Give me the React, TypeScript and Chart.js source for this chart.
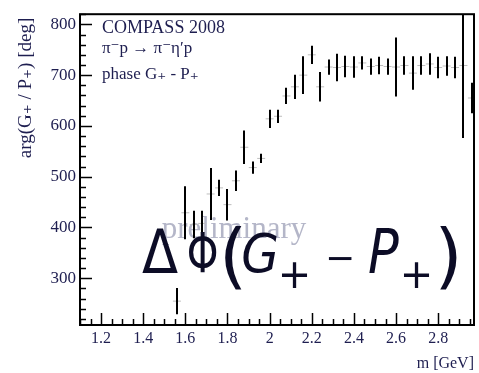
import React, { useEffect, useRef } from "react";
import { Chart, registerables } from "chart.js";

Chart.register(...registerables);

// Mass bins [GeV]
const masses = [
  1.56, 1.6, 1.64, 1.68, 1.72, 1.76, 1.8, 1.84, 1.88, 1.92, 1.96, 2.0, 2.04, 2.08, 2.12, 2.16, 2.2, 2.24,
  2.28, 2.32, 2.36, 2.4, 2.44, 2.48, 2.52, 2.56, 2.6, 2.64, 2.68, 2.72, 2.76, 2.8, 2.84, 2.88, 2.92, 2.96,
];
// Phase difference arg(G+/P+) [deg]
const phases = [
  255, 429, 406, 408, 466, 478, 445, 492, 558, 518, 536, 614, 619, 659, 677, 700, 740, 677,
  716, 715, 717, 716, 724, 717, 719, 717, 716, 719, 704, 719, 722, 715, 718, 715, 719, 655,
];
// Statistical errors [deg]
const errors = [
  26, 52, 27, 25, 51, 16, 31, 20, 33, 12, 9, 18, 13, 16, 24, 37, 18, 29,
  15, 27, 21, 21, 13, 16, 17, 16, 58, 18, 33, 18, 21, 21, 19, 21, 143, 30,
];

const xTickLabels = [1.2, 1.4, 1.6, 1.8, 2.0, 2.2, 2.4, 2.6, 2.8];
const yTickLabels = [300, 400, 500, 600, 700, 800];
const xRange = [1.1, 2.97];
const yRange = [208, 820];
const xMinorStep = 0.05;
const yMinorStep = 20;

const infoLines = ["COMPASS 2008", "π⁻p → π⁻η′p", "phase G₊ - P₊"];

const TEXT_COLOR = "#1e1e50";
const SERIF = "'Liberation Serif', 'DejaVu Serif', serif";

const fmt = (v: number) => (Number.isInteger(v) ? String(v) : v.toFixed(1));

const framePlugin = {
  id: "frameTicks",
  afterDatasetsDraw(chart: any) {
    const { ctx, chartArea: a, scales } = chart;
    const xs = scales.x;
    const ys = scales.y;
    ctx.save();
    // error bars
    ctx.beginPath();
    ctx.rect(a.left, a.top, a.right - a.left, a.bottom - a.top);
    ctx.clip();
    ctx.strokeStyle = "#000";
    ctx.lineWidth = 2;
    for (let i = 0; i < masses.length; i++) {
      const px = Math.round(xs.getPixelForValue(masses[i]));
      const y1 = ys.getPixelForValue(phases[i] - errors[i]);
      const y2 = ys.getPixelForValue(phases[i] + errors[i]);
      ctx.beginPath();
      ctx.moveTo(px, y1);
      ctx.lineTo(px, y2);
      ctx.stroke();
    }
    ctx.restore();

    ctx.save();
    ctx.strokeStyle = "#000";
    // ticks
    ctx.lineWidth = 1.5;
    const x0 = Math.ceil(xRange[0] / xMinorStep - 1e-6);
    for (let k = x0; k * xMinorStep <= xRange[1] + 1e-9; k++) {
      const v = k * xMinorStep;
      const major = xTickLabels.some((t) => Math.abs(t - v) < 1e-6);
      const px = Math.round(xs.getPixelForValue(v)) + 0.5;
      ctx.beginPath();
      ctx.moveTo(px, a.bottom);
      ctx.lineTo(px, a.bottom - (major ? 12 : 6));
      ctx.stroke();
    }
    const y0 = Math.ceil(yRange[0] / yMinorStep - 1e-6);
    for (let k = y0; k * yMinorStep <= yRange[1] + 1e-9; k++) {
      const v = k * yMinorStep;
      const major = yTickLabels.some((t) => Math.abs(t - v) < 1e-6);
      const py = Math.round(ys.getPixelForValue(v)) + 0.5;
      ctx.beginPath();
      ctx.moveTo(a.left, py);
      ctx.lineTo(a.left + (major ? 12 : 6), py);
      ctx.stroke();
    }
    // frame
    ctx.lineWidth = 2;
    ctx.strokeRect(a.left, a.top, a.right - a.left, a.bottom - a.top);
    ctx.restore();
  },
};

const watermarkPlugin = {
  id: "watermark",
  beforeDatasetsDraw(chart: any) {
    const { ctx } = chart;
    ctx.save();
    ctx.fillStyle = "#b4b6c8";
    ctx.font = `31px ${SERIF}`;
    ctx.textAlign = "center";
    ctx.textBaseline = "alphabetic";
    ctx.fillText("preliminary", 234, 238);
    ctx.restore();
  },
};

const textPlugin = {
  id: "texts",
  afterDraw(chart: any) {
    const { ctx, chartArea: a } = chart;
    ctx.save();
    ctx.fillStyle = TEXT_COLOR;
    ctx.textAlign = "left";
    ctx.textBaseline = "alphabetic";
    ctx.font = `18px ${SERIF}`;
    ctx.fillText(infoLines[0], a.left + 22, 33);
    ctx.font = `17px ${SERIF}`;
    ctx.fillText(infoLines[1], a.left + 22, 53);
    ctx.fillText(infoLines[2], a.left + 22, 79);

    // axis titles
    ctx.font = `16px ${SERIF}`;
    ctx.textAlign = "right";
    ctx.fillText("m [GeV]", a.right, 368);
    ctx.save();
    ctx.translate(31, 88);
    ctx.rotate(-Math.PI / 2);
    ctx.textAlign = "center";
    ctx.font = `19px ${SERIF}`;
    ctx.fillText("arg(G₊ / P₊) [deg]", 0, 0);
    ctx.restore();

    // big formula overlay
    const SANS = "'DejaVu Sans', sans-serif";
    const glyphs = [
      { t: "Δ", cx: 160, y: 273, f: `60px ${SANS}`, sx: 0.88 },
      { t: "Φ", cx: 202.5, y: 272, f: `56px ${SANS}`, sx: 0.72 },
      { t: "(", cx: 233, y: 280, f: `72px ${SANS}`, sx: 1 },
      { t: "G", cx: 260, y: 272, f: `italic 54px ${SANS}`, sx: 0.9 },
      { t: "+", cx: 294.5, y: 288, f: `40px ${SANS}`, sx: 1 },
      { t: "−", cx: 340, y: 270, f: `36px ${SANS}`, sx: 1 },
      { t: "P", cx: 383.5, y: 273, f: `italic 60px ${SANS}`, sx: 0.85 },
      { t: "+", cx: 416.5, y: 288, f: `40px ${SANS}`, sx: 1 },
      { t: ")", cx: 448.5, y: 280, f: `72px ${SANS}`, sx: 1 },
    ];
    ctx.fillStyle = "#0c0c26";
    ctx.textAlign = "center";
    for (const g of glyphs) {
      ctx.save();
      ctx.font = g.f;
      ctx.translate(g.cx, g.y);
      ctx.scale(g.sx, 1);
      ctx.fillText(g.t, 0, 0);
      ctx.restore();
    }
    ctx.restore();
  },
};

export default function App() {
  const ref = useRef<HTMLCanvasElement | null>(null);
  useEffect(() => {
    if (!ref.current) return;
    const tickFont = { family: SERIF, size: 17 };
    const chart = new Chart(ref.current, {
      type: "scatter",
      data: {
        datasets: [
          {
            data: masses.map((m, i) => ({ x: m, y: phases[i] })),
            pointStyle: "line",
            pointRadius: 4,
            borderColor: "#bdbdbd",
            backgroundColor: "#bdbdbd",
            borderWidth: 1,
            showLine: false,
          },
        ],
      },
      options: {
        animation: false,
        responsive: false,
        layout: { padding: { top: 13, right: 2, left: 0, bottom: 0 } },
        plugins: { legend: { display: false }, tooltip: { enabled: false }, title: { display: false } },
        scales: {
          x: {
            type: "linear",
            min: xRange[0],
            max: xRange[1],
            afterBuildTicks: (s: any) => {
              s.ticks = xTickLabels.map((v) => ({ value: v }));
            },
            afterFit: (s: any) => {
              s.height = 48;
            },
            ticks: {
              font: { family: SERIF, size: 16 },
              color: TEXT_COLOR,
              padding: 4,
              maxRotation: 0,
              autoSkip: false,
              callback: (v: any) => fmt(Number(v)),
            },
            grid: { display: false, drawTicks: false },
            border: { display: false },
          },
          y: {
            type: "linear",
            min: yRange[0],
            max: yRange[1],
            afterBuildTicks: (s: any) => {
              s.ticks = yTickLabels.map((v) => ({ value: v }));
            },
            afterFit: (s: any) => {
              s.width = 80;
            },
            ticks: {
              font: tickFont,
              color: TEXT_COLOR,
              padding: 4,
              autoSkip: false,
              callback: (v: any) => fmt(Number(v)),
            },
            grid: { display: false, drawTicks: false },
            border: { display: false },
          },
        },
      },
      plugins: [watermarkPlugin, framePlugin, textPlugin],
    });
    return () => chart.destroy();
  }, []);
  return (
    <div style={{ position: "fixed", left: 0, top: 0, width: 479, height: 373, background: "#fff" }}>
      <canvas ref={ref} width={479} height={373} style={{ display: "block" }} />
    </div>
  );
}
